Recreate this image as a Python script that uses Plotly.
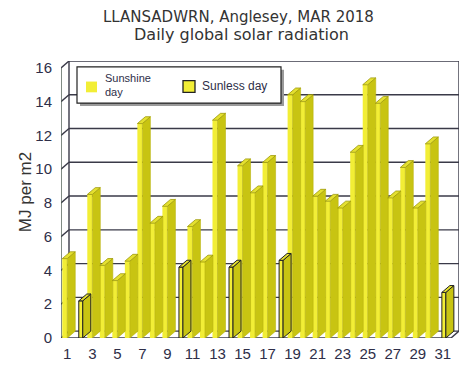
import plotly.graph_objects as go

# ---------------- data ----------------
DAYS = list(range(1, 32))
RADIATION = [4.7, 2.2, 8.5, 4.3, 3.4, 4.55, 12.7, 6.8, 7.8, 4.2,
             6.6, 4.5, 12.9, 4.2, 10.2, 8.6, 10.4, 4.6, 14.4, 14.0,
             8.4, 8.1, 7.7, 11.0, 15.0, 13.9, 8.3, 10.1, 7.7, 11.5, 2.7]
SUNLESS_DAYS = [2, 10, 14, 18, 31]
X_TICKS = list(range(1, 32, 2))
Y_TICKS = list(range(0, 17, 2))
TITLE_1 = "LLANSADWRN, Anglesey, MAR 2018"
TITLE_2 = "Daily global solar radiation"
Y_TITLE = "MJ per m2"
LEG_SUN = "Sunshine<br>day"
LEG_SUNLESS = "Sunless day"

# ---------------- style / geometry ----------------
# page has an 8px body margin: figure is drawn 8px right/down of page origin
PAGE_OFF = 8
W, H = 472 - PAGE_OFF, 374 - PAGE_OFF
P_LEFT, P_RIGHT, P_TOP, P_BOTTOM = 61, 459, 61, 344   # plot box in page pixels
L = P_LEFT - PAGE_OFF
T = P_TOP - PAGE_OFF
R = W - (P_RIGHT - PAGE_OFF)
B = H - (P_BOTTOM - PAGE_OFF)
PX_X = 12.52          # pixels per day
PX_Y = 17.25          # pixels per MJ
DX = 8 / PX_X         # 3-D depth offset (x, data units)
DY = 7 / PX_Y         # 3-D depth offset (y, data units)
XMIN = 0.5
XMAX = XMIN + (P_RIGHT - P_LEFT) / PX_X
YMAX = (P_BOTTOM - P_TOP) / PX_Y

FRONT = "#f2ee36"
SIDE = "#c8c412"
TOP = "#e4e030"
GRID = "#3a3a48"
TXT = "#2e2e48"

sun_d = [d for d in DAYS if d not in SUNLESS_DAYS]
sun_v = [v for d, v in zip(DAYS, RADIATION) if d not in SUNLESS_DAYS]
dark_d = [d for d in DAYS if d in SUNLESS_DAYS]
dark_v = [v for d, v in zip(DAYS, RADIATION) if d in SUNLESS_DAYS]

SUN_OFF, SUN_W = -0.40, 0.40
DARK_OFF, DARK_W = -0.08, 0.32


def prism(days, vals, off, w):
    sx, sy, tx, ty = [], [], [], []
    for d, v in zip(days, vals):
        xl = d + off
        xr = xl + w
        sx += [xr, xr + DX, xr + DX, xr, xr, None]
        sy += [0, DY, v + DY, v, 0, None]
        tx += [xl, xr, xr + DX, xl + DX, xl, None]
        ty += [v, v, v + DY, v + DY, v, None]
    return sx, sy, tx, ty


s_sx, s_sy, s_tx, s_ty = prism(sun_d, sun_v, SUN_OFF, SUN_W)
d_sx, d_sy, d_tx, d_ty = prism(dark_d, dark_v, DARK_OFF, DARK_W)

fig = go.Figure()
fig.add_trace(go.Scatter(x=s_sx, y=s_sy, mode="lines", fill="toself", fillcolor=SIDE,
                         line=dict(width=0.6, color="#b8b410"), hoverinfo="skip", showlegend=False))
fig.add_trace(go.Scatter(x=d_sx, y=d_sy, mode="lines", fill="toself", fillcolor=SIDE,
                         line=dict(width=1, color="#222222"), hoverinfo="skip", showlegend=False))
fig.add_trace(go.Scatter(x=s_tx, y=s_ty, mode="lines", fill="toself", fillcolor=TOP,
                         line=dict(width=0.8, color="#9c9808"), hoverinfo="skip", showlegend=False))
fig.add_trace(go.Scatter(x=d_tx, y=d_ty, mode="lines", fill="toself", fillcolor=TOP,
                         line=dict(width=1, color="#222222"), hoverinfo="skip", showlegend=False))
fig.add_trace(go.Bar(x=sun_d, y=sun_v, width=SUN_W, offset=SUN_OFF, name="Sunshine day",
                     marker=dict(color=FRONT, line=dict(width=0)), showlegend=False))
fig.add_trace(go.Bar(x=dark_d, y=dark_v, width=DARK_W, offset=DARK_OFF, name="Sunless day",
                     marker=dict(color=FRONT, line=dict(width=1, color="#222222")), showlegend=False))

# ---------------- 3-D box (walls / gridlines) ----------------
shapes = []


def seg(x0, y0, x1, y1, color=GRID, width=1.4):
    shapes.append(dict(type="line", xref="x", yref="y", x0=x0, y0=y0, x1=x1, y1=y1,
                       line=dict(color=color, width=width), layer="below"))


for v in Y_TICKS:
    seg(XMIN + DX, v + DY, XMAX, v + DY)
    seg(XMIN, v, XMIN + DX, v + DY)
seg(XMIN, 0, XMIN, 16, color="#4a5a50")
seg(XMIN + DX, DY, XMIN + DX, 16 + DY)
seg(XMIN, 0, XMAX - DX, 0)
seg(XMAX - DX, 0, XMAX, DY)
seg(XMAX, DY, XMAX, 16 + DY)

# ---------------- legend (drawn) ----------------
pw, ph = P_RIGHT - P_LEFT, P_BOTTOM - P_TOP


def px(x):
    return (x - P_LEFT) / pw


def py(y):
    return (P_BOTTOM - y) / ph


shapes.append(dict(type="rect", xref="paper", yref="paper", x0=px(80), x1=px(284), y0=py(107), y1=py(70),
                   fillcolor="#9a9a9a", line=dict(width=0)))
shapes.append(dict(type="rect", xref="paper", yref="paper", x0=px(77), x1=px(281), y0=py(104), y1=py(67),
                   fillcolor="white", line=dict(color="#222", width=1.2)))
shapes.append(dict(type="rect", xref="paper", yref="paper", x0=px(86), x1=px(97), y0=py(93), y1=py(82),
                   fillcolor=FRONT, line=dict(width=0)))
shapes.append(dict(type="rect", xref="paper", yref="paper", x0=px(183), x1=px(195), y0=py(93), y1=py(81),
                   fillcolor=FRONT, line=dict(color="#222", width=1.3)))

annotations = [
    dict(text=TITLE_1, xref="paper", yref="paper", x=px(238), y=py(16.5), showarrow=False,
         font=dict(family="DejaVu Sans", size=15, color="#333"), xanchor="center", yanchor="middle"),
    dict(text=TITLE_2, xref="paper", yref="paper", x=px(241), y=py(34), showarrow=False,
         font=dict(family="DejaVu Sans", size=16, color="#333"), xanchor="center", yanchor="middle"),
    dict(text=Y_TITLE, xref="paper", yref="paper", x=px(25), y=py(195), showarrow=False, textangle=-90,
         font=dict(family="Liberation Sans", size=17, color="#333"), xanchor="center", yanchor="middle"),
    dict(text=LEG_SUN, xref="paper", yref="paper", x=px(103), y=py(86), showarrow=False, align="left",
         font=dict(family="Liberation Sans", size=11, color=TXT), xanchor="left", yanchor="middle"),
    dict(text=LEG_SUNLESS, xref="paper", yref="paper", x=px(200), y=py(87), showarrow=False,
         font=dict(family="Liberation Sans", size=12, color=TXT), xanchor="left", yanchor="middle"),
]

fig.update_layout(
    width=W, height=H,
    margin=dict(l=L, r=R, t=T, b=B, pad=0),
    paper_bgcolor="white", plot_bgcolor="white",
    barmode="overlay",
    showlegend=False,
    shapes=shapes,
    annotations=annotations,
    xaxis=dict(range=[XMIN, XMAX], tickvals=X_TICKS, ticktext=[str(t) for t in X_TICKS],
               showgrid=False, zeroline=False, showline=False, ticks="outside", ticklen=2,
               tickcolor="rgba(0,0,0,0)",
               tickfont=dict(family="Liberation Sans", size=15, color=TXT)),
    yaxis=dict(range=[0, YMAX], tickvals=Y_TICKS, showgrid=False, zeroline=False, showline=False,
               ticks="outside", ticklen=5, tickcolor="rgba(0,0,0,0)",
               tickfont=dict(family="Liberation Sans", size=15, color=TXT)),
)

fig.write_html("out.html")
